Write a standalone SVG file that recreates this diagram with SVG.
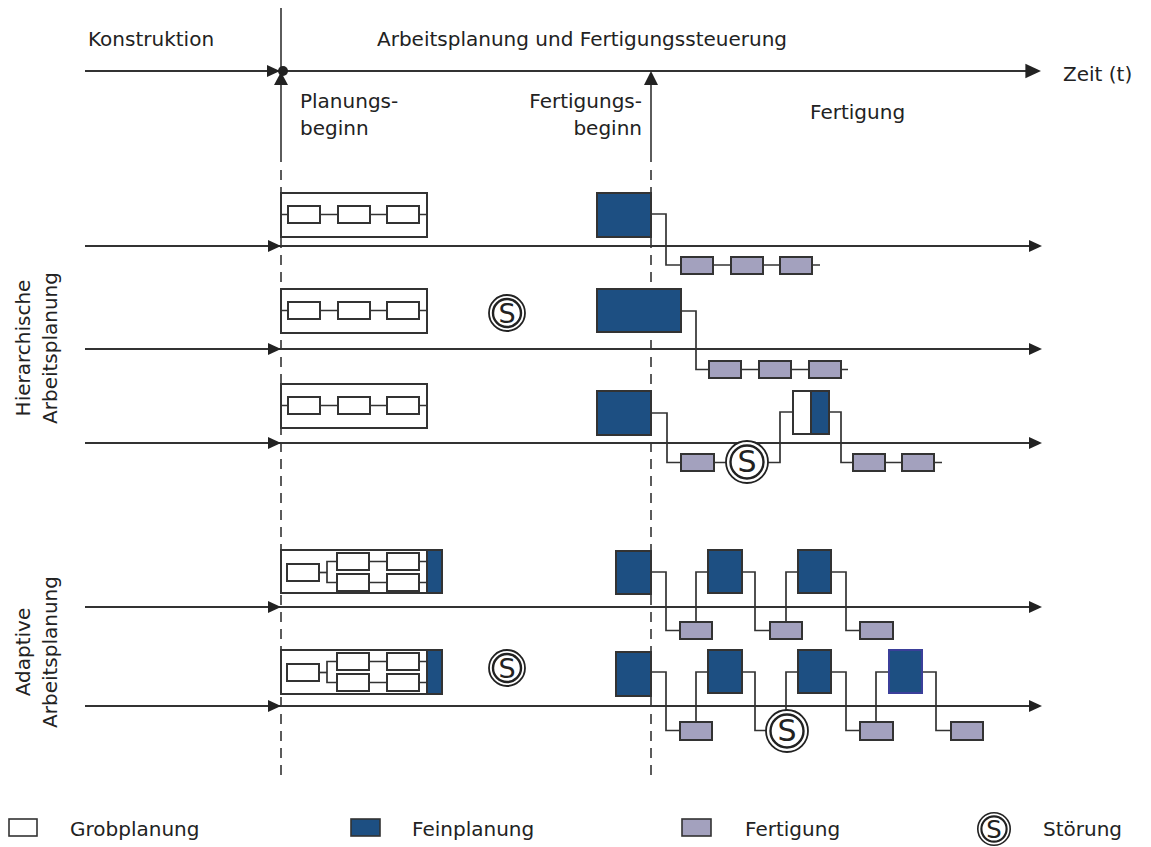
<svg xmlns="http://www.w3.org/2000/svg" width="1151" height="847" viewBox="0 0 1151 847">
  <style>
    text { font-family: "DejaVu Sans", Verdana, sans-serif; font-size: 20px; fill: #222; }
    .axis { stroke: #333; stroke-width: 2; fill: none; }
    .guide { stroke: #333; stroke-width: 1.6; fill: none; }
    .dash { stroke: #333; stroke-width: 1.6; fill: none; stroke-dasharray: 10 7; }
    .wire { stroke: #333; stroke-width: 1.7; fill: none; }
    .grob { fill: #fff; stroke: #333; stroke-width: 2; }
    .frame { fill: none; stroke: #333; stroke-width: 2; }
    .fein { fill: #1d4f82; stroke: #333; stroke-width: 2; }
    .fert { fill: #a3a1be; stroke: #333; stroke-width: 2; }
    .s-out { fill: #fff; stroke: #222; stroke-width: 1.8; }
    .s-in { fill: none; stroke: #222; stroke-width: 2.4; }
    .s-txt { font-size: 27px; text-anchor: middle; }
  </style>
  <defs>
    <path id="tri" d="M-13,-6 L0,0 L-13,6 z" fill="#222"/>
    <!-- disruption symbol, radius 18 -->
    <g id="stoer">
      <circle class="s-out" r="18"/>
      <circle class="s-in" r="14"/>
      <text class="s-txt" y="10">S</text>
    </g>
    <!-- disruption symbol, radius 21 -->
    <g id="stoerL">
      <circle class="s-out" r="21"/>
      <circle class="s-in" r="16.5"/>
      <text class="s-txt" y="10" style="font-size:30px">S</text>
    </g>
  </defs>

  <!-- headings -->
  <g id="labels">
    <text x="88" y="46">Konstruktion</text>
    <text x="377" y="46">Arbeitsplanung und Fertigungssteuerung</text>
    <text x="1063" y="81">Zeit (t)</text>
    <text x="300" y="108">Planungs-</text>
    <text x="300" y="135">beginn</text>
    <text x="642" y="108" text-anchor="end">Fertigungs-</text>
    <text x="642" y="135" text-anchor="end">beginn</text>
    <text x="810" y="119">Fertigung</text>
    <g transform="translate(30,348) rotate(-90)">
      <text x="0" y="0" text-anchor="middle">Hierarchische</text>
      <text x="0" y="27" text-anchor="middle">Arbeitsplanung</text>
    </g>
    <g transform="translate(30,652) rotate(-90)">
      <text x="0" y="0" text-anchor="middle">Adaptive</text>
      <text x="0" y="27" text-anchor="middle">Arbeitsplanung</text>
    </g>
  </g>

  <!-- time axes, milestone guides and wiring -->
  <g id="connectors">
    <line class="axis" x1="85" y1="71" x2="1030" y2="71"/>
    <use href="#tri" transform="translate(1041,71) scale(1.2)"/>
    <use href="#tri" transform="translate(280,71)"/>

    <!-- Planungsbeginn -->
    <line class="guide" x1="281" y1="8" x2="281" y2="162"/>
    <line class="dash" x1="281" y1="170" x2="281" y2="775"/>
    <circle cx="283" cy="71" r="5" fill="#222"/>
    <path d="M274,85 L281,72 L288,85 z" fill="#222"/>

    <!-- Fertigungsbeginn -->
    <line class="guide" x1="651" y1="80" x2="651" y2="162"/>
    <line class="dash" x1="651" y1="170" x2="651" y2="775"/>
    <path d="M644,85 L651,71 L658,85 z" fill="#222"/>

    <!-- scenario axes -->
    <line class="axis" x1="85" y1="246" x2="1030" y2="246"/>
    <use href="#tri" transform="translate(1042,246)"/>
    <use href="#tri" transform="translate(281,246)"/>
    <line class="axis" x1="85" y1="349" x2="1030" y2="349"/>
    <use href="#tri" transform="translate(1042,349)"/>
    <use href="#tri" transform="translate(281,349)"/>
    <line class="axis" x1="85" y1="443" x2="1030" y2="443"/>
    <use href="#tri" transform="translate(1042,443)"/>
    <use href="#tri" transform="translate(281,443)"/>
    <line class="axis" x1="85" y1="607" x2="1030" y2="607"/>
    <use href="#tri" transform="translate(1042,607)"/>
    <use href="#tri" transform="translate(281,607)"/>
    <line class="axis" x1="85" y1="706" x2="1030" y2="706"/>
    <use href="#tri" transform="translate(1042,706)"/>
    <use href="#tri" transform="translate(281,706)"/>

    <!-- row 1 wiring -->
    <line class="wire" x1="281" y1="214.5" x2="427" y2="214.5"/>
    <polyline class="wire" points="651,214 666,214 666,265 681,265"/>
    <line class="wire" x1="681" y1="265" x2="820" y2="265"/>

    <!-- row 2 wiring -->
    <line class="wire" x1="281" y1="310.5" x2="427" y2="310.5"/>
    <polyline class="wire" points="681,311 696,311 696,369.5 709,369.5"/>
    <line class="wire" x1="709" y1="369.5" x2="848" y2="369.5"/>

    <!-- row 3 wiring -->
    <line class="wire" x1="281" y1="405.5" x2="427" y2="405.5"/>
    <polyline class="wire" points="651,413 667,413 667,462.5 747,462.5"/>
    <polyline class="wire" points="747,462.5 780,462.5 780,412 793,412"/>
    <polyline class="wire" points="829,412 841,412 841,462.5 942,462.5"/>

    <!-- row 4 wiring -->
    <line class="wire" x1="319" y1="572.5" x2="327" y2="572.5"/>
    <polyline class="wire" points="337,561.5 327,561.5 327,582.5 337,582.5"/>
    <line class="wire" x1="369" y1="561.5" x2="427" y2="561.5"/>
    <line class="wire" x1="369" y1="582.5" x2="427" y2="582.5"/>
    <polyline class="wire" points="651,572 666,572 666,630.5 680,630.5"/>
    <polyline class="wire" points="696,622 696,572 708,572"/>
    <polyline class="wire" points="742,572 755,572 755,630.5 770,630.5"/>
    <polyline class="wire" points="786,622 786,572 798,572"/>
    <polyline class="wire" points="831,572 846,572 846,630.5 860,630.5"/>

    <!-- row 5 wiring -->
    <line class="wire" x1="319" y1="672.5" x2="327" y2="672.5"/>
    <polyline class="wire" points="337,661.5 327,661.5 327,682.5 337,682.5"/>
    <line class="wire" x1="369" y1="661.5" x2="427" y2="661.5"/>
    <line class="wire" x1="369" y1="682.5" x2="427" y2="682.5"/>
    <polyline class="wire" points="651,672 666,672 666,730.5 680,730.5"/>
    <polyline class="wire" points="696,722 696,672 708,672"/>
    <polyline class="wire" points="742,672 755,672 755,730.5 770,730.5"/>
    <polyline class="wire" points="786,712 786,672 798,672"/>
    <polyline class="wire" points="831,672 846,672 846,730.5 860,730.5"/>
    <polyline class="wire" points="876,722 876,672 889,672"/>
    <polyline class="wire" points="922,672 936,672 936,730.5 951,730.5"/>
  </g>

  <!-- row 1: hierarchical, undisturbed -->
  <g id="row1">
    <rect class="frame" x="281" y="193" width="146" height="44"/>
    <rect class="grob" x="288" y="206" width="32" height="17"/>
    <rect class="grob" x="338" y="206" width="32" height="17"/>
    <rect class="grob" x="387" y="206" width="32" height="17"/>
    <rect class="fein" x="597" y="193" width="54" height="44"/>
    <rect class="fert" x="681" y="257" width="32" height="17"/>
    <rect class="fert" x="731" y="257" width="32" height="17"/>
    <rect class="fert" x="780" y="257" width="32" height="17"/>
  </g>

  <!-- row 2: hierarchical, disruption during planning -->
  <g id="row2">
    <rect class="frame" x="281" y="289" width="146" height="44"/>
    <rect class="grob" x="288" y="302" width="32" height="17"/>
    <rect class="grob" x="338" y="302" width="32" height="17"/>
    <rect class="grob" x="387" y="302" width="32" height="17"/>
    <use href="#stoer" x="507" y="313"/>
    <rect class="fein" x="597" y="289" width="84" height="43"/>
    <rect class="fert" x="709" y="361" width="32" height="17"/>
    <rect class="fert" x="759" y="361" width="32" height="17"/>
    <rect class="fert" x="809" y="361" width="32" height="17"/>
  </g>

  <!-- row 3: hierarchical, disruption during production -->
  <g id="row3">
    <rect class="frame" x="281" y="384" width="146" height="44"/>
    <rect class="grob" x="288" y="397" width="32" height="17"/>
    <rect class="grob" x="338" y="397" width="32" height="17"/>
    <rect class="grob" x="387" y="397" width="32" height="17"/>
    <rect class="fein" x="597" y="391" width="54" height="44"/>
    <rect class="fert" x="681" y="454" width="33" height="17"/>
    <use href="#stoerL" x="747" y="462"/>
    <rect class="grob" x="793" y="391" width="18" height="43"/>
    <rect class="fein" x="811" y="391" width="18" height="43"/>
    <rect class="fert" x="853" y="454" width="32" height="17"/>
    <rect class="fert" x="902" y="454" width="32" height="17"/>
  </g>

  <!-- row 4: adaptive, undisturbed -->
  <g id="row4">
    <rect class="frame" x="281" y="550" width="161" height="43"/>
    <rect class="fein" x="427" y="550" width="15" height="43"/>
    <rect class="grob" x="287" y="564" width="32" height="17"/>
    <rect class="grob" x="337" y="553" width="32" height="17"/>
    <rect class="grob" x="337" y="574" width="32" height="17"/>
    <rect class="grob" x="387" y="553" width="32" height="17"/>
    <rect class="grob" x="387" y="574" width="32" height="17"/>
    <rect class="fein" x="616" y="551" width="35" height="43"/>
    <rect class="fert" x="680" y="622" width="32" height="17"/>
    <rect class="fein" x="708" y="550" width="34" height="43"/>
    <rect class="fert" x="770" y="622" width="32" height="17"/>
    <rect class="fein" x="798" y="550" width="33" height="43"/>
    <rect class="fert" x="860" y="622" width="33" height="17"/>
  </g>

  <!-- row 5: adaptive, disruptions -->
  <g id="row5">
    <rect class="frame" x="281" y="650" width="161" height="44"/>
    <rect class="fein" x="427" y="650" width="15" height="44"/>
    <rect class="grob" x="287" y="664" width="32" height="17"/>
    <rect class="grob" x="337" y="653" width="32" height="17"/>
    <rect class="grob" x="337" y="674" width="32" height="17"/>
    <rect class="grob" x="387" y="653" width="32" height="17"/>
    <rect class="grob" x="387" y="674" width="32" height="17"/>
    <use href="#stoer" x="507" y="668"/>
    <rect class="fein" x="616" y="652" width="35" height="44"/>
    <rect class="fert" x="680" y="722" width="32" height="18"/>
    <rect class="fein" x="708" y="650" width="34" height="43"/>
    <use href="#stoerL" x="787" y="731"/>
    <rect class="fein" x="798" y="650" width="33" height="43"/>
    <rect class="fert" x="860" y="722" width="33" height="18"/>
    <rect class="fein" x="889" y="650" width="33" height="43" style="stroke:#3b3f9a"/>
    <rect class="fert" x="951" y="722" width="32" height="18"/>
  </g>

  <!-- legend -->
  <g id="legend">
    <rect class="grob" x="9" y="819" width="28" height="17" style="stroke-width:1.6"/>
    <text x="70" y="836">Grobplanung</text>
    <rect class="fein" x="351" y="819" width="29" height="17" style="stroke-width:1.6"/>
    <text x="412" y="836">Feinplanung</text>
    <rect class="fert" x="682" y="819" width="29" height="17" style="stroke-width:1.6"/>
    <text x="745" y="836">Fertigung</text>
    <g transform="translate(994,829) scale(0.9)">
      <use href="#stoer"/>
    </g>
    <text x="1043" y="836">Störung</text>
  </g>
</svg>
